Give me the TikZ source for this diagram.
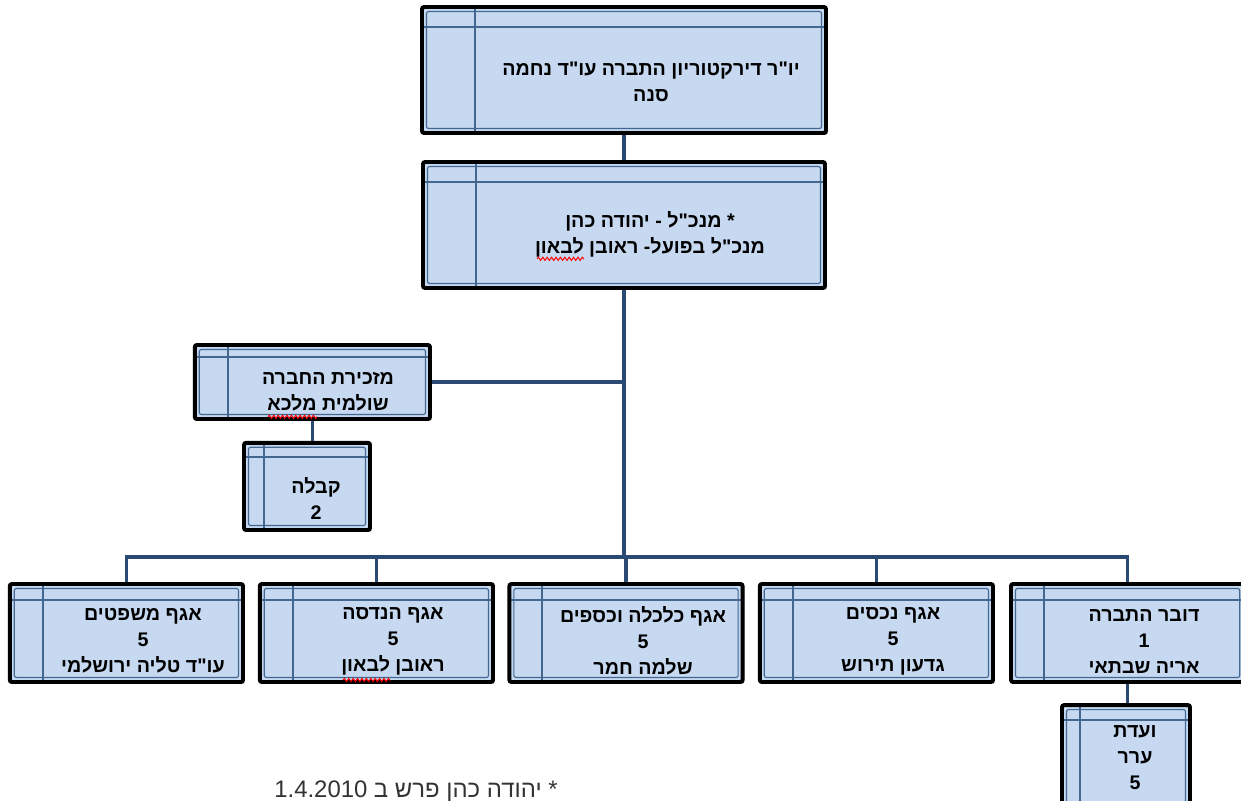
\documentclass[tikz,border=0pt]{standalone}
\usepackage{fontspec}
\setmainfont{Liberation Sans}
\newfontfamily\hebfont[Script=Hebrew]{Liberation Sans}
\TeXXeTstate=1
\usetikzlibrary{shadows,decorations.pathmorphing}
\definecolor{boxblue}{HTML}{C6D9F1}
\definecolor{linkblue}{HTML}{2B4A73}
\definecolor{bandblue}{HTML}{44678F}
\definecolor{notegray}{HTML}{333333}

\tikzset{
  bandx/.store in=\bandx, bandy/.store in=\bandy, bandx=0.825cm, bandy=0.4cm,
  unit/.style={draw=black, line width=2.8pt, rounded corners=1.5pt, fill=boxblue,
    drop shadow={shadow xshift=1.4pt, shadow yshift=-1.4pt, opacity=0.25},
    path picture={
      \draw[bandblue, line width=0.8pt] ([shift={(3.2pt,-3.2pt)}]path picture bounding box.north west) rectangle ([shift={(-3.2pt,3.2pt)}]path picture bounding box.south east);
      \draw[bandblue, line width=1.5pt] ([xshift=\bandx]path picture bounding box.north west) -- ([xshift=\bandx]path picture bounding box.south west);
      \draw[bandblue, line width=1.5pt] ([yshift=-\bandy]path picture bounding box.north west) -- ([yshift=-\bandy]path picture bounding box.north east);
    }},
  txt/.style={align=center, inner sep=0pt, font=\hebfont\bfseries\fontsize{14}{18.5}\selectfont},
  link/.style={draw=linkblue, line width=2.6pt},
  spell/.style={draw=red, line width=0.7pt, decorate, decoration={snake, segment length=1.1mm, amplitude=0.4mm}}
}

\begin{document}
\begin{tikzpicture}
	\useasboundingbox (0,0) rectangle (31.025,-20);

	% top of the chart
	\node[unit, bandx=1.325cm, bandy=0.5cm, minimum width=10.1cm, minimum height=3.15cm] (chair) at (15.6,-1.75) {};
	\node[unit, bandx=1.325cm, bandy=0.5cm, minimum width=10.05cm, minimum height=3.15cm] (ceo) at (15.6,-5.625) {};
	\node[txt] (chair-t) at (16.275,-2.05) {\beginR יו"ר דירקטוריון התברה עו"ד נחמה\endR\\\beginR סנה\endR};
	\node[txt] (ceo-t) at (16.25,-5.85) {\beginR * מנכ"ל - יהודה כהן\endR\\\beginR מנכ"ל בפועל- ראובן לבאון\endR};

	% secretary
	\node[unit, bandx=0.825cm, bandy=0.3cm, minimum width=5.88cm, minimum height=1.85cm] (sec) at (7.81,-9.55) {};
	\node[unit, bandx=0.5cm, bandy=0.35cm, minimum width=3.15cm, minimum height=2.18cm] (recp) at (7.675,-12.16) {};
	\node[txt] (sec-t) at (8.2,-9.8) {\beginR מזכירת החברה\endR\\\beginR שולמית מלכא\endR};
	\node[txt] (recp-t) at (7.9,-12.46) {\beginR קבלה\endR\\2};

	% departments
	\node[unit, minimum width=5.83cm, minimum height=2.45cm] (legal) at (3.16,-15.825) {};
	\node[unit, minimum width=5.83cm, minimum height=2.45cm] (eng) at (9.41,-15.825) {};
	\node[unit, minimum width=5.83cm, minimum height=2.45cm] (fin) at (15.65,-15.825) {};
	\node[unit, minimum width=5.83cm, minimum height=2.45cm] (prop) at (21.91,-15.825) {};
	\node[unit, minimum width=5.83cm, minimum height=2.45cm] (spk) at (28.19,-15.825) {};
	\node[unit, bandx=0.45cm, bandy=0.375cm, minimum width=3.2cm, minimum height=2.625cm] (vaada) at (28.15,-18.94) {};

	\node[txt] (legal-t) at (3.575,-16.03) {\beginR אגף משפטים\endR\\5\\\beginR עו"ד טליה ירושלמי\endR};
	\node[txt] (eng-t) at (9.825,-16.03) {\beginR אגף הנדסה\endR\\5\\\beginR ראובן לבאון\endR};
	\node[txt] (fin-t) at (16.075,-16.03) {\beginR אגף כלכלה וכספים\endR\\5\\\beginR שלמה חמר\endR};
	\node[txt] (prop-t) at (22.325,-16.03) {\beginR אגף נכסים\endR\\5\\\beginR גדעון תירוש\endR};
	\node[txt] (spk-t) at (28.6,-16.03) {\beginR דובר התברה\endR\\1\\\beginR אריה שבתאי\endR};
	\node[txt] (vaada-t) at (28.375,-18.95) {\beginR ועדת\endR\\\beginR ערר\endR\\5};

	\node[anchor=base, inner sep=0pt, text=notegray, font=\hebfont\fontsize{17}{20}\selectfont] (note) at (10.4,-19.925) {\beginR * יהודה כהן פרש ב \beginL1.4.2010\endL\endR};

	% connectors
	\coordinate (bus) at (15.6,-13.925);
	\draw[link] (chair.south) -- (ceo.north);
	\draw[link] (ceo.south) -- (ceo.south |- bus);
	\draw[link] (sec.east) -- (sec.east -| ceo.south);
	\draw[link] (sec.south) -- (sec.south |- recp.north);
	\draw[link] (legal.north) |- (bus) -| (spk.north);
	\foreach \n in {eng,fin,prop}
		\draw[link] (\n.north) -- (\n.north |- bus);
	\draw[link] (spk.south) -- (spk.south |- vaada.north);

	% spelling marks
	\draw[spell] (13.425,-6.47) -- (14.6,-6.47);
	\draw[spell] (6.7,-10.42) -- (7.925,-10.42);
	\draw[spell] (8.575,-17.0) -- (9.75,-17.0);
\end{tikzpicture}
\end{document}
